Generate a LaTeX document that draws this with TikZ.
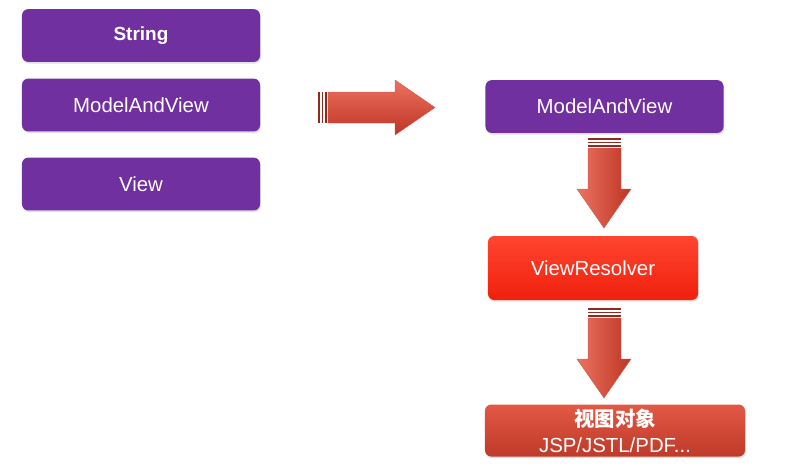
\documentclass[tikz,border=0pt]{standalone}
\usepackage{fontspec}
\setmainfont{Liberation Sans}
\newfontfamily\cjk{Noto Sans CJK SC}
\usetikzlibrary{shadows, positioning}

\definecolor{boxpurple}{HTML}{7030A0}
\definecolor{resolvertop}{HTML}{FF4530}
\definecolor{resolverbot}{HTML}{F0200C}
\definecolor{viewtop}{HTML}{E25844}
\definecolor{viewbot}{HTML}{BF3A2A}
\definecolor{arrowlight}{HTML}{EC7260}
\definecolor{arrowdark}{HTML}{BE3424}
\definecolor{stripered}{HTML}{8E2A1E}

\begin{document}
\begin{tikzpicture}[
    x=0.025cm, y=-0.025cm,
    % common look of the boxes
    box/.style={
        rectangle, rounded corners=4.5pt, text=white,
        inner sep=2pt, text centered,
        font=\fontsize{14.5}{17}\selectfont,
        drop shadow={opacity=0.25, shadow xshift=0.6pt, shadow yshift=-1.2pt}
    },
    purplebox/.style={box, fill=boxpurple, minimum width=5.95cm, minimum height=1.32cm},
    resolverbox/.style={box, top color=resolvertop, bottom color=resolverbot,
        minimum width=5.25cm, minimum height=1.6cm},
    viewbox/.style={box, top color=viewtop, bottom color=viewbot,
        minimum width=6.5cm, minimum height=1.3cm, align=center,
        font=\fontsize{14.5}{18.5}\selectfont},
    stripe/.style={fill=stripered},
    rightbody/.style={top color=arrowlight, bottom color=arrowdark, draw=arrowdark!80, line width=0.3pt},
    downbody/.style={left color=arrowlight, right color=arrowdark, draw=arrowdark!80, line width=0.3pt}
]
  \useasboundingbox (0,0) rectangle (796,470);

  % Left column: return types
  \node[purplebox, font=\bfseries\fontsize{13.5}{16}\selectfont] (string) at (141,35.5) {String};
  \node[purplebox] (mavleft) at (141,105) {ModelAndView};
  \node[purplebox] (view) at (141,184) {View};

  % Right column: resolving chain
  \node[purplebox] (mavright) at (604.5,106.5) {ModelAndView};
  \node[resolverbox] (resolver) at (593,268) {ViewResolver};
  \node[viewbox] (viewobj) at (615,430.5) {{\cjk\bfseries 视图对象}\\JSP/JSTL/PDF...};

  % Big arrow: left column -> right column
  \foreach \sx in {318,321.5,325}
    \fill[stripe] (\sx,92) rectangle (\sx+1.6,123);
  \shade[rightbody] (328,92) -- (395,92) -- (395,80) -- (435,107.5)
    -- (395,135) -- (395,123) -- (328,123) -- cycle;

  % Down arrow: ModelAndView -> ViewResolver
  \foreach \sy in {138,141.5,145}
    \fill[stripe] (588,\sy) rectangle (621,\sy+1.6);
  \shade[downbody] (588,148) -- (621,148) -- (621,189) -- (631,189)
    -- (604,228) -- (577,189) -- (588,189) -- cycle;

  % Down arrow: ViewResolver -> view object
  \foreach \sy in {308,311.5,315}
    \fill[stripe] (588,\sy) rectangle (621,\sy+1.6);
  \shade[downbody] (588,318) -- (621,318) -- (621,359) -- (631,359)
    -- (604,398) -- (577,359) -- (588,359) -- cycle;

\end{tikzpicture}
\end{document}
